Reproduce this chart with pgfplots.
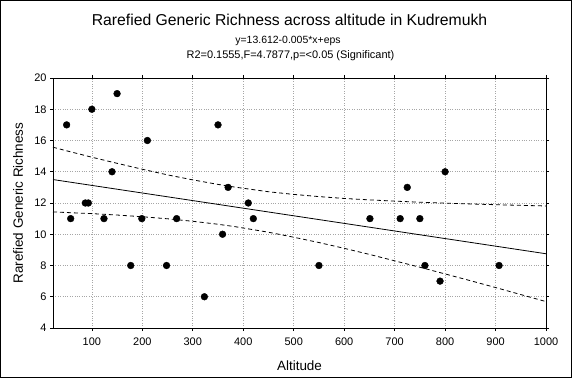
\documentclass[border=0pt]{standalone}
\usepackage{pgfplots}
\pgfplotsset{compat=1.18}
\usepackage{fontspec}
\setmainfont{Liberation Sans}
\begin{document}
\begin{tikzpicture}
\begin{axis}[
  scale only axis,
  width=493bp, height=250bp,
  xmin=23, xmax=1000, ymin=4, ymax=20,
  xtick={100,200,...,1000}, ytick={4,6,...,20},
  tick align=outside,
  major tick length=3bp,
  tick style={black, line width=0.6bp},
  axis line style={black, line width=0.8bp},
  grid=major,
  major grid style={gray!70, dotted, line width=0.6bp},
  /pgf/number format/assume math mode=true,
  /pgf/number format/.cd, set thousands separator={}, 1000 sep={},
  /pgfplots/.cd,
  ticklabel style={font=\fontsize{11}{13}\selectfont},
  xticklabel style={yshift=-3bp},
  xlabel={Altitude},
  ylabel={Rarefied Generic Richness},
  label style={font=\fontsize{13.5}{16}\selectfont},
  xlabel style={at={(axis description cs:0.5,-0.152)}, anchor=center},
  ylabel style={at={(axis description cs:-0.071,0.5)}, anchor=center},
  clip=false,
]
\addplot[only marks, mark=*, mark size=3.4bp, black] coordinates {
(50,17) (100,18) (150,19) (210,16) (350,17) (140,14) (370,13)
(87,12) (93,12) (58,11) (124,11) (199,11) (268,11) (359,10)
(177,8) (248,8) (323,6) (410,12) (420,11) (725,13) (651,11)
(711,11) (750,11) (550,8) (760,8) (800,14) (790,7) (907,8)
};
\addplot[black, line width=0.8bp] coordinates {(23,13.500) (1000,8.752)};
\addplot[black, line width=0.8bp, dash pattern=on 4bp off 3bp] coordinates {
(23,15.57) (50,15.34) (100,14.93) (150,14.54) (200,14.16) (250,13.80)
(300,13.48) (350,13.19) (385,13.01) (450,12.72) (500,12.55) (550,12.41)
(600,12.29) (650,12.20) (700,12.12) (750,12.05) (800,11.99) (850,11.94)
(900,11.89) (950,11.85) (1000,11.81)
};
\addplot[black, line width=0.8bp, dash pattern=on 4bp off 3bp] coordinates {
(23,11.43) (50,11.39) (100,11.32) (150,11.23) (200,11.12) (250,10.99)
(300,10.83) (350,10.64) (385,10.48) (450,10.13) (500,9.81) (550,9.47)
(600,9.10) (650,8.71) (700,8.30) (750,7.89) (800,7.46) (850,7.03)
(900,6.59) (950,6.14) (1000,5.69)
};
\node[font=\fontsize{15.8}{18}\selectfont, anchor=base] at (axis description cs:0.4797,1.21) {Rarefied Generic Richness across altitude in Kudremukh};
\node[font=\fontsize{10.5}{13}\selectfont, anchor=base] at (axis description cs:0.4767,1.138) {y=13.612-0.005*x+eps};
\node[font=\fontsize{11}{13}\selectfont, anchor=base] at (axis description cs:0.4817,1.078) {R2=0.1555,F=4.7877,p=<0.05 (Significant)};
\draw[black, line width=1bp] (axis description cs:-0.1065,-0.198) rectangle (axis description cs:1.0517,1.31);
\end{axis}
\end{tikzpicture}
\end{document}
